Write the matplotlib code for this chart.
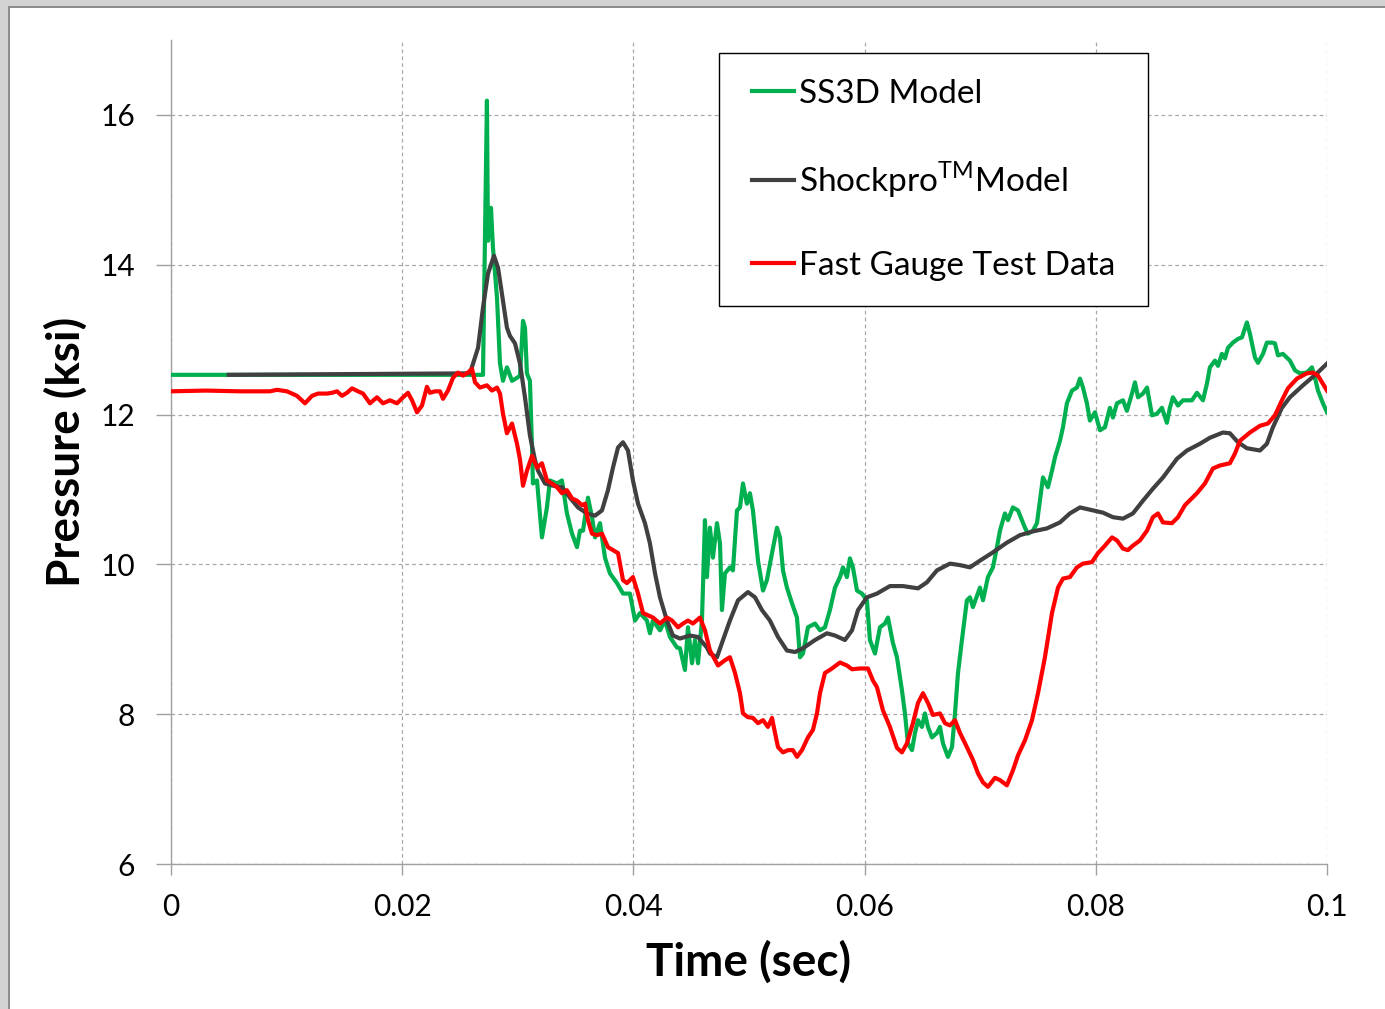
import numpy as np
import matplotlib
matplotlib.use('Agg')
import matplotlib.pyplot as plt
from matplotlib.patches import Rectangle

plt.rcParams['font.family'] = ['Lato', 'DejaVu Sans']
plt.rcParams['mathtext.fontset'] = 'custom'
plt.rcParams['mathtext.rm'] = 'Lato'

# time in ms, pressure in ksi
ss3d_t = [0, 26.99, 27.33, 27.42, 27.68, 27.85, 28.20, 28.46, 28.72, 29.06,
          29.50, 29.93, 30.19, 30.45, 30.62, 30.79, 31.05, 31.23, 31.31, 31.66,
          32.09, 32.52, 32.78, 33.39, 33.82, 34.25, 34.69, 35.12, 35.38, 35.64,
          36.07, 36.42, 36.68, 37.11, 37.54, 37.97, 38.58, 39.10, 39.70, 40.14,
          40.57, 41.17, 41.43, 41.69, 42.30, 42.73, 43.16, 43.77, 44.03, 44.46,
          44.72, 45.07, 45.33, 45.59, 45.93, 46.19, 46.36, 46.62, 46.88, 47.23,
          47.49, 47.66, 47.92, 48.35, 48.61, 48.96, 49.22, 49.48, 49.82, 50.08,
          50.34, 50.78, 51.21, 51.55, 51.99, 52.42, 52.68, 52.94, 53.28, 53.72,
          54.15, 54.41, 54.67, 55.10, 55.71, 56.14, 56.57, 57.00, 57.44, 57.87,
          58.13, 58.47, 58.73, 58.99, 59.34, 59.77, 60.20, 60.46, 60.90, 61.33,
          61.76, 62.02, 62.45, 62.80, 63.23, 63.49, 63.75, 64.10, 64.36, 64.62,
          64.96, 65.22, 65.48, 65.83, 66.26, 66.52, 66.78, 67.21, 67.56, 67.82,
          68.08, 68.42, 68.85, 69.11, 69.37, 69.98, 70.24, 70.67, 71.10, 71.45,
          71.71, 72.14, 72.40, 72.83, 73.27, 73.61, 73.87, 74.13, 74.56, 74.91,
          75.17, 75.43, 75.86, 76.21, 76.47, 76.90, 77.16, 77.50, 77.94, 78.37,
          78.63, 78.89, 79.23, 79.49, 79.93, 80.36, 80.79, 81.22, 81.48, 81.83,
          82.35, 82.69, 83.13, 83.39, 83.65, 84.08, 84.43, 84.86, 85.29, 85.72,
          86.15, 86.41, 86.67, 87.11, 87.54, 88.32, 88.75, 89.27, 89.61, 89.87,
          90.31, 90.57, 90.91, 91.17, 91.43, 91.86, 92.30, 92.64, 93.07, 93.33,
          93.77, 94.03, 94.46, 94.80, 95.24, 95.50, 95.76, 96.19, 96.53, 96.79,
          97.23, 97.66, 98.26, 98.70, 98.96, 99.22, 99.65, 100.0]
ss3d_p = [12.53, 12.53, 16.19, 14.32, 14.76, 14.23, 13.56, 12.68, 12.45, 12.63,
          12.45, 12.49, 12.52, 13.25, 13.16, 12.55, 12.45, 11.56, 11.08, 11.12,
          10.36, 10.76, 11.12, 11.08, 11.12, 10.68, 10.41, 10.23, 10.45, 10.45,
          10.89, 10.63, 10.36, 10.55, 10.09, 9.88, 9.75, 9.61, 9.61, 9.25,
          9.35, 9.25, 9.08, 9.25, 9.12, 9.25, 9.03, 8.89, 8.88, 8.59,
          9.16, 8.68, 8.99, 8.68, 9.25, 10.59, 9.83, 10.49, 10.09, 10.55,
          10.28, 9.39, 9.88, 9.96, 9.92, 10.72, 10.76, 11.08, 10.81, 10.95,
          10.72, 10.05, 9.65, 9.79, 10.15, 10.49, 10.36, 9.92, 9.69, 9.48,
          9.29, 8.76, 8.81, 9.16, 9.21, 9.12, 9.16, 9.39, 9.69, 9.83,
          9.96, 9.83, 10.08, 9.96, 9.65, 9.61, 9.52, 8.99, 8.81, 9.16,
          9.21, 9.29, 8.95, 8.76, 8.32, 8.01, 7.61, 7.52, 7.75, 7.92,
          7.83, 8.01, 7.83, 7.69, 7.75, 7.83, 7.61, 7.43, 7.56, 8.01,
          8.55, 8.99, 9.52, 9.56, 9.43, 9.69, 9.52, 9.83, 9.96, 10.23,
          10.45, 10.68, 10.59, 10.76, 10.72, 10.59, 10.49, 10.41, 10.45, 10.55,
          10.85, 11.16, 11.03, 11.25, 11.43, 11.65, 11.83, 12.15, 12.32, 12.36,
          12.48, 12.36, 12.15, 11.92, 12.03, 11.79, 11.83, 12.09, 11.96, 12.15,
          12.19, 12.05, 12.28, 12.43, 12.23, 12.28, 12.36, 11.99, 12.01, 12.09,
          11.89, 12.09, 12.23, 12.12, 12.19, 12.19, 12.29, 12.19, 12.41, 12.63,
          12.72, 12.65, 12.81, 12.75, 12.89, 12.96, 13.01, 13.03, 13.23, 13.08,
          12.76, 12.69, 12.81, 12.96, 12.96, 12.95, 12.79, 12.81, 12.76, 12.72,
          12.59, 12.55, 12.56, 12.63, 12.49, 12.32, 12.15, 12.03]

shock_t = [5.0, 25.86, 26.56, 26.99, 27.42, 27.94, 28.29, 28.63, 29.06, 29.32,
           29.76, 30.19, 30.62, 31.05, 31.49, 31.75, 32.35, 33.04, 33.82, 34.51,
           35.21, 35.98, 36.68, 37.28, 37.80, 38.23, 38.67, 39.10, 39.53, 39.96,
           40.40, 41.00, 41.43, 41.87, 42.30, 42.90, 43.42, 44.03, 44.89, 45.59,
           46.36, 46.62, 47.23, 47.75, 48.35, 49.05, 49.91, 50.52, 51.12, 51.81,
           52.51, 53.28, 53.98, 54.67, 55.71, 56.74, 57.44, 58.30, 58.91, 59.43,
           60.20, 61.07, 62.19, 63.32, 64.62, 65.39, 66.26, 67.38, 68.25, 69.11,
           69.98, 71.10, 72.31, 73.44, 74.56, 75.77, 76.90, 77.76, 78.63, 79.49,
           80.62, 81.48, 82.35, 83.21, 84.08, 84.94, 85.81, 87.02, 87.89, 89.01,
           89.87, 91.00, 91.60, 92.30, 93.07, 94.20, 94.80, 95.32, 96.10, 96.79,
           97.92, 99.13, 100.0]
shock_p = [12.53, 12.55, 12.89, 13.43, 13.88, 14.12, 13.96, 13.61, 13.16, 13.05,
           12.95, 12.68, 12.23, 11.72, 11.39, 11.25, 11.08, 11.05, 11.03, 10.89,
           10.76, 10.68, 10.65, 10.72, 10.99, 11.29, 11.56, 11.63, 11.52, 11.12,
           10.81, 10.55, 10.28, 9.88, 9.56, 9.25, 9.05, 9.01, 9.05, 9.03,
           8.89, 8.81, 8.76, 8.99, 9.25, 9.52, 9.63, 9.56, 9.39, 9.25,
           9.03, 8.85, 8.83, 8.88, 8.99, 9.08, 9.05, 8.99, 9.12, 9.39,
           9.56, 9.61, 9.71, 9.71, 9.68, 9.76, 9.92, 10.01, 9.99, 9.96,
           10.05, 10.16, 10.29, 10.39, 10.44, 10.48, 10.56, 10.68, 10.76, 10.73,
           10.69, 10.63, 10.61, 10.68, 10.85, 11.01, 11.16, 11.41, 11.52, 11.61,
           11.69, 11.76, 11.75, 11.63, 11.55, 11.52, 11.61, 11.83, 12.09, 12.23,
           12.39, 12.55, 12.68]

gauge_t = [0, 3.0, 6.0, 8.56, 9.17, 10.03, 10.90, 11.59, 12.20, 12.72,
           13.49, 13.93, 14.36, 14.79, 15.22, 15.66, 16.18, 16.61, 17.21, 17.82,
           18.34, 18.94, 19.55, 20.07, 20.50, 20.85, 21.28, 21.71, 22.14, 22.40,
           22.84, 23.27, 23.53, 23.96, 24.39, 24.83, 25.26, 25.69, 26.04, 26.30,
           26.73, 27.33, 27.77, 28.20, 28.46, 28.72, 29.06, 29.50, 29.93, 30.19,
           30.45, 30.79, 31.23, 31.66, 32.09, 32.52, 32.96, 33.39, 33.82, 34.25,
           34.69, 35.12, 35.55, 35.81, 36.07, 36.42, 36.85, 37.28, 37.80, 38.23,
           38.67, 39.10, 39.44, 39.96, 40.40, 40.83, 41.26, 41.69, 42.30, 42.90,
           43.34, 43.86, 44.29, 44.72, 45.15, 45.76, 46.19, 46.62, 47.32, 47.92,
           48.35, 48.79, 49.22, 49.48, 49.91, 50.34, 50.78, 51.21, 51.64, 51.99,
           52.25, 52.51, 52.94, 53.37, 53.80, 54.15, 54.58, 55.10, 55.53, 55.88,
           56.14, 56.57, 57.18, 57.87, 58.47, 58.91, 59.60, 60.29, 60.72, 61.07,
           61.59, 62.19, 62.80, 63.23, 63.66, 64.18, 64.62, 65.05, 65.48, 65.91,
           66.52, 66.95, 67.38, 67.82, 68.25, 68.85, 69.37, 69.81, 70.24, 70.67,
           71.28, 71.71, 72.31, 72.83, 73.27, 73.87, 74.48, 75.00, 75.60, 76.21,
           76.73, 77.16, 77.76, 78.37, 78.89, 79.67, 80.19, 80.79, 81.40, 81.83,
           82.35, 82.78, 83.21, 83.82, 84.43, 84.94, 85.38, 85.81, 86.59, 87.11,
           87.71, 88.75, 89.44, 90.13, 90.74, 91.60, 92.04, 92.47, 93.33, 94.20,
           94.89, 95.50, 96.10, 96.62, 97.40, 98.26, 98.78, 99.22, 99.65, 100.0]
gauge_p = [12.31, 12.32, 12.31, 12.31, 12.33, 12.31, 12.25, 12.15, 12.25, 12.28,
           12.28, 12.29, 12.31, 12.25, 12.29, 12.35, 12.31, 12.28, 12.15, 12.23,
           12.15, 12.19, 12.15, 12.23, 12.29, 12.19, 12.03, 12.12, 12.37, 12.29,
           12.31, 12.31, 12.21, 12.32, 12.49, 12.56, 12.52, 12.56, 12.61, 12.43,
           12.36, 12.39, 12.32, 12.36, 12.28, 12.01, 11.75, 11.88, 11.61, 11.40,
           11.05, 11.25, 11.45, 11.29, 11.35, 11.12, 11.08, 11.03, 10.95, 10.99,
           10.88, 10.85, 10.79, 10.81, 10.59, 10.41, 10.39, 10.41, 10.23, 10.19,
           10.15, 9.79, 9.75, 9.83, 9.61, 9.35, 9.32, 9.29, 9.21, 9.29,
           9.25, 9.16, 9.21, 9.25, 9.21, 9.29, 9.12, 8.85, 8.65, 8.72,
           8.76, 8.55, 8.28, 8.01, 7.96, 7.95, 7.88, 7.92, 7.83, 7.95,
           7.75, 7.56, 7.49, 7.52, 7.52, 7.43, 7.52, 7.69, 7.79, 8.01,
           8.28, 8.55, 8.61, 8.69, 8.65, 8.60, 8.61, 8.61, 8.45, 8.36,
           8.05, 7.83, 7.55, 7.49, 7.61, 7.88, 8.15, 8.28, 8.15, 7.99,
           8.01, 7.88, 7.85, 7.92, 7.75, 7.56, 7.39, 7.21, 7.09, 7.03,
           7.15, 7.12, 7.05, 7.25, 7.45, 7.65, 7.92, 8.28, 8.76, 9.35,
           9.69, 9.81, 9.83, 9.96, 10.01, 10.03, 10.15, 10.25, 10.36, 10.32,
           10.21, 10.19, 10.25, 10.32, 10.45, 10.63, 10.68, 10.56, 10.55, 10.63,
           10.79, 10.95, 11.08, 11.28, 11.32, 11.35, 11.48, 11.65, 11.76, 11.85,
           11.88, 11.99, 12.19, 12.35, 12.48, 12.55, 12.56, 12.52, 12.41, 12.32]

x_ticks = [0, 0.02, 0.04, 0.06, 0.08, 0.1]
x_labels = ['0', '0.02', '0.04', '0.06', '0.08', '0.1']
y_ticks = [6, 8, 10, 12, 14, 16]

W, H = 1385, 1009
fig = plt.figure(figsize=(W / 100, H / 100), dpi=100)

# window edge along the top and left
fig.patches.append(Rectangle((0, 1 - 6 / H), 1, 6 / H, transform=fig.transFigure,
                             facecolor='#d2d2d2', edgecolor='none'))
fig.patches.append(Rectangle((0, 1 - 8 / H), 1, 2 / H, transform=fig.transFigure,
                             facecolor='#8c8c8c', edgecolor='none'))
fig.patches.append(Rectangle((0, 0), 8 / W, 1, transform=fig.transFigure,
                             facecolor='#d2d2d2', edgecolor='none'))
fig.patches.append(Rectangle((8 / W, 0), 2 / W, 1 - 6 / H, transform=fig.transFigure,
                             facecolor='#8c8c8c', edgecolor='none'))

ax = fig.add_axes([171 / W, 145 / H, 1156 / W, 824 / H])

lw = 3.0
l1, = ax.plot(np.array(ss3d_t) / 1000, ss3d_p, color='#00B050', lw=lw, zorder=3,
              solid_joinstyle='round')
l2, = ax.plot(np.array(shock_t) / 1000, shock_p, color='#404040', lw=lw, zorder=4,
              solid_joinstyle='round')
l3, = ax.plot(np.array(gauge_t) / 1000, gauge_p, color='#FF0000', lw=lw, zorder=5,
              solid_joinstyle='round')

ax.set_xlim(0, 0.1)
ax.set_ylim(6, 17)
ax.set_xticks(x_ticks)
ax.set_xticklabels(x_labels)
ax.set_yticks(y_ticks)
ax.set_axisbelow(True)
ax.grid(True, color='#a8a8a8', linestyle=(0, (3, 2.5)), lw=0.9)

for side in ['top', 'right']:
    ax.spines[side].set_visible(False)
for side in ['left', 'bottom']:
    ax.spines[side].set_color('#a0a0a0')
    ax.spines[side].set_linewidth(1.0)

ax.tick_params(axis='x', direction='out', length=8, width=1, color='#a0a0a0',
               labelsize=21.5, pad=13)
ax.tick_params(axis='y', direction='out', length=11, width=1, color='#a0a0a0',
               labelsize=21.5, pad=15)

ax.set_xlabel('Time (sec)', fontsize=33, fontweight='bold', labelpad=14)
ax.set_ylabel('Pressure (ksi)', fontsize=33, fontweight='bold', labelpad=9)

# legend box
fig.patches.append(Rectangle((719 / W, 1 - 306 / H), 429 / W, 253 / H,
                             transform=fig.transFigure, facecolor='white',
                             edgecolor='black', lw=1.0, zorder=10))
leg = ax.legend([l1, l2, l3],
                ['SS3D Model', r'Shockpro$^{\mathrm{TM}}$Model', 'Fast Gauge Test Data'],
                loc='center', bbox_to_anchor=(933.5 / W, 1 - 180 / H),
                bbox_transform=fig.transFigure, frameon=False, fontsize=24,
                handlelength=1.25, handletextpad=0.15, labelspacing=1.52,
                borderaxespad=0)
leg.remove()
fig.legends.append(leg)
leg.set_zorder(11)

fig.savefig('out.png', dpi=100)
